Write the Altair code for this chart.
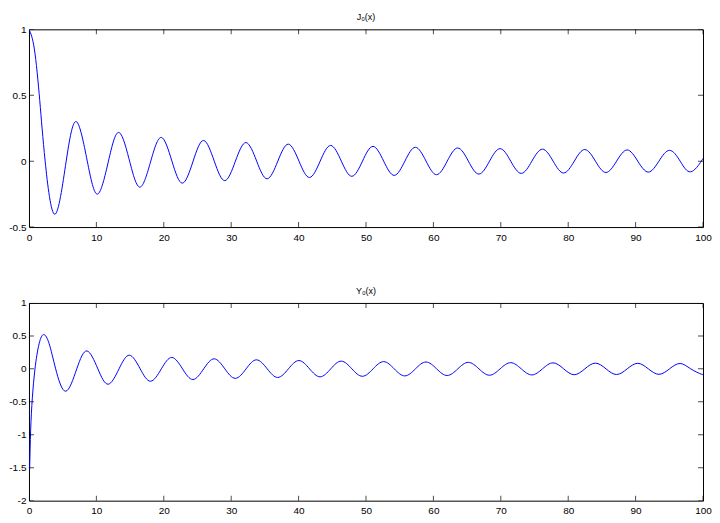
import altair as alt
import pandas as pd

# ---- data (extrema and zero crossings) ----
J0_X = [0, 0.8, 1.6, 2.40,
        3.83, 5.52, 7.02, 8.65, 10.17, 11.79, 13.32, 14.93, 16.47, 18.07,
        19.62, 21.21, 22.76, 24.35, 25.90, 27.49, 29.05, 30.63, 32.19, 33.78,
        35.33, 36.92, 38.47, 40.06, 41.62, 43.20, 44.76, 46.34, 47.90, 49.48,
        51.04, 52.62, 54.19, 55.77, 57.33, 58.91, 60.47, 62.05, 63.61, 65.19,
        66.75, 68.33, 69.90, 71.47, 73.04, 74.61, 76.18, 77.76, 79.32, 80.90,
        82.46, 84.04, 85.60, 87.18, 88.75, 90.32, 91.89, 93.46, 95.03, 96.61,
        98.17, 99.75, 100]
J0_Y = [1.0, 0.85, 0.46, 0,
        -0.403, 0, 0.300, 0, -0.250, 0, 0.218, 0, -0.197, 0,
        0.180, 0, -0.167, 0, 0.157, 0, -0.148, 0, 0.141, 0,
        -0.134, 0, 0.129, 0, -0.124, 0, 0.119, 0, -0.115, 0,
        0.112, 0, -0.108, 0, 0.105, 0, -0.103, 0, 0.100, 0,
        -0.098, 0, 0.095, 0, -0.093, 0, 0.091, 0, -0.090, 0,
        0.088, 0, -0.086, 0, 0.085, 0, -0.083, 0, 0.082, 0,
        -0.081, 0, 0.020]

Y0_X = [0.1, 0.25, 0.5, 0.89, 1.5, 2.20, 3.0, 3.96,
        5.43, 7.09, 8.60, 10.22, 11.75, 13.36, 14.90, 16.50, 18.04, 19.64,
        21.19, 22.78, 24.33, 25.92, 27.48, 29.06, 30.62, 32.21, 33.76, 35.35,
        36.90, 38.49, 40.05, 41.63, 43.19, 44.77, 46.33, 47.91, 49.47, 51.05,
        52.62, 54.19, 55.76, 57.34, 58.90, 60.48, 62.04, 63.62, 65.18, 66.76,
        68.32, 69.90, 71.47, 73.04, 74.61, 76.18, 77.75, 79.33, 80.89, 82.47,
        84.03, 85.61, 87.18, 88.75, 90.32, 91.89, 93.46, 95.03, 96.60, 98.18,
        99.74, 100]
Y0_Y = [-1.53, -0.93, -0.44, 0, 0.38, 0.52, 0.38, 0,
        -0.340, 0, 0.272, 0, -0.233, 0, 0.207, 0, -0.188, 0,
        0.173, 0, -0.162, 0, 0.152, 0, -0.144, 0, 0.137, 0,
        -0.131, 0, 0.126, 0, -0.121, 0, 0.117, 0, -0.113, 0,
        0.110, 0, -0.107, 0, 0.104, 0, -0.101, 0, 0.099, 0,
        -0.097, 0, 0.094, 0, -0.092, 0, 0.091, 0, -0.089, 0,
        0.087, 0, -0.086, 0, 0.084, 0, -0.083, 0, 0.081, 0,
        -0.080, -0.077]

X_TICKS = [0, 10, 20, 30, 40, 50, 60, 70, 80, 90, 100]
J0_YTICKS = [-0.5, 0, 0.5, 1]
Y0_YTICKS = [-2, -1.5, -1, -0.5, 0, 0.5, 1]
X_DOMAIN = [0, 100]
J0_DOMAIN = [-0.5, 1]
Y0_DOMAIN = [-2, 1]
TITLES = ["J\u2080(x)", "Y\u2080(x)"]

FONT = "Liberation Sans"
W, H = 675, 198


def panel(xs, ys, title, ydom, yticks):
    df = pd.DataFrame({"x": xs, "y": ys})
    xscale = alt.Scale(domain=X_DOMAIN, nice=False, zero=False)
    yscale = alt.Scale(domain=ydom, nice=False, zero=False)

    line = alt.Chart(df).mark_line(
        color="#0000ff", strokeWidth=1, interpolate="natural", clip=True
    ).encode(
        x=alt.X("x:Q", scale=xscale,
                axis=alt.Axis(values=X_TICKS, ticks=False, tickSize=0, domain=False,
                              grid=False, labelPadding=5, labelFont=FONT,
                              labelFontSize=10, labelColor="black", title=None,
                              labelFlush=False, labelExpr="toString(datum.value)")),
        y=alt.Y("y:Q", scale=yscale,
                axis=alt.Axis(values=yticks, ticks=False, tickSize=0, domain=False,
                              grid=False, labelPadding=3, labelFont=FONT,
                              labelFontSize=10, labelColor="black", title=None,
                              labelFlush=False, labelExpr="toString(datum.value)")),
    )

    xt = pd.DataFrame({"v": X_TICKS})
    yt = pd.DataFrame({"v": yticks})
    layers = [line]
    for edge in ydom:
        layers.append(
            alt.Chart(xt).mark_tick(orient="vertical", size=10, thickness=1,
                                    color="black", clip=True).encode(
                x=alt.X("v:Q", scale=xscale, axis=None),
                y=alt.YDatum(edge, type="quantitative", scale=yscale, axis=None),
            )
        )
    for edge in X_DOMAIN:
        layers.append(
            alt.Chart(yt).mark_tick(orient="horizontal", size=10, thickness=1,
                                    color="black", clip=True).encode(
                y=alt.Y("v:Q", scale=yscale, axis=None),
                x=alt.XDatum(edge, type="quantitative", scale=xscale, axis=None),
            )
        )
    return alt.layer(*layers).resolve_axis(x="independent", y="independent").properties(
        width=W, height=H,
        title=alt.TitleParams(text=title, font=FONT, fontSize=9, fontWeight="normal",
                              color="black", baseline="alphabetic", offset=-5,
                              anchor="middle", frame="group"),
    )


top = panel(J0_X, J0_Y, TITLES[0], J0_DOMAIN, J0_YTICKS)
bottom = panel(Y0_X, Y0_Y, TITLES[1], Y0_DOMAIN, Y0_YTICKS)

chart = alt.vconcat(top, bottom, spacing=76, bounds="flush").properties(
    padding={"left": 0, "top": 4, "right": 0, "bottom": -2},
    background="white",
).configure_view(stroke="black", strokeWidth=1)

chart.save("out.html", embed_options={"renderer": "svg", "actions": False})
